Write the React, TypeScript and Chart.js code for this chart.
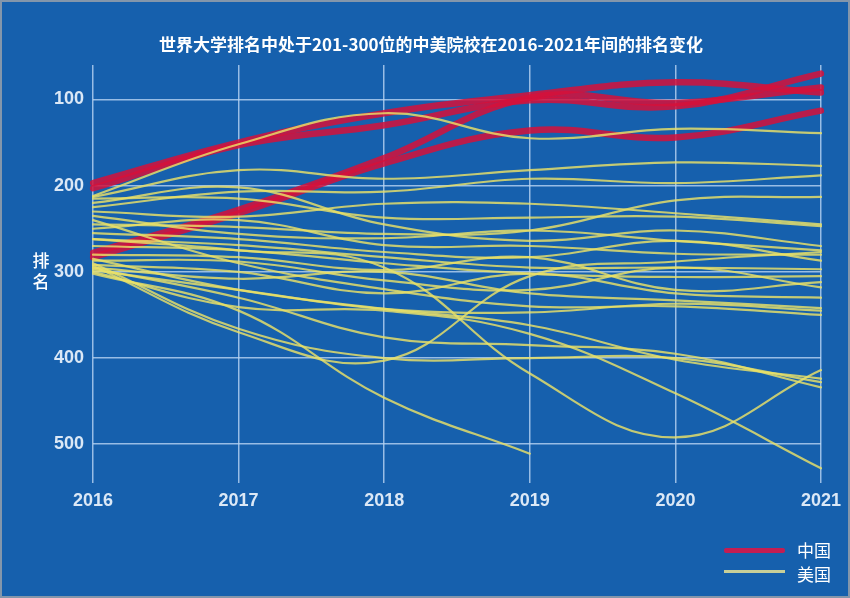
import React, { useEffect, useRef } from 'react';
import { Chart, registerables } from 'chart.js';

Chart.register(...registerables);

const TITLE = '世界大学排名中处于201-300位的中美院校在2016-2021年间的排名变化';
const Y_TITLE = ['排', '名'];
const years = ['2016', '2017', '2018', '2019', '2020', '2021'];
const yTicks = [100, 200, 300, 400, 500];
const legendLabels = ['中国', '美国'];

// China (red)
const cn1 = [197, 150, 116, 95, 80, 92];
const cn2 = [203, 153, 130, 101, 108, 70];
const cn3 = [278, 228, 168, 98, 104, 86];
const cn4 = [283, 232, 174, 136, 144, 113];

// USA (yellow)
const us01 = [212, 152, 116, 145, 134, 139];
const us02 = [213, 182, 192, 182, 173, 177];
const us03 = [225, 207, 207, 192, 197, 188];
const us04 = [245, 248, 256, 252, 217, 213];
const us05 = [230, 236, 221, 221, 232, 245];
const us06 = [215, 215, 237, 237, 236, 247];
const us07 = [220, 202, 245, 264, 252, 270];
const us08 = [235, 256, 261, 252, 264, 275];
const us09 = [250, 240, 269, 270, 279, 280];
const us10 = [255, 262, 277, 283, 264, 287];
const us11 = [262, 269, 283, 295, 295, 297];
const us12 = [270, 275, 290, 302, 306, 305];
const us13 = [280, 283, 298, 283, 321, 312];
const us14 = [287, 288, 310, 321, 295, 318];
const us15 = [292, 300, 325, 302, 325, 330];
const us16 = [295, 308, 300, 325, 333, 342];
const us17 = [298, 321, 343, 347, 337, 345];
const us18 = [240, 290, 320, 340, 340, 350];
const us19 = [300, 341, 345, 372, 441, 528];
const us20 = [262, 275, 295, 418, 492, 414];
const us21 = [302, 345, 446, 511, null, null];
const us22 = [293, 370, 403, 305, 288, 277];
const us23 = [290, 366, 400, 400, 400, 428];
const us24 = [296, 330, 376, 385, 395, 434];
const us25 = [285, 321, 343, 362, 402, 424];

const chinaSeries = [cn1, cn2, cn3, cn4];
const usSeries = [
  us01, us02, us03, us04, us05, us06, us07, us08, us09, us10, us11, us12, us13,
  us14, us15, us16, us17, us18, us19, us20, us21, us22, us23, us24, us25,
];

const BG = '#1660ad';
const GRID = 'rgba(185, 212, 242, 0.8)';
const TICK = '#dbe8f6';
const RED = 'rgba(214, 16, 58, 0.85)';
const YELLOW = 'rgba(234, 226, 104, 0.82)';
const CJK = "'Noto Sans CJK SC', 'Noto Sans', sans-serif";
const TICK_FONT = "'Liberation Sans', Arial, sans-serif";

export default function App() {
  const ref = useRef<HTMLCanvasElement | null>(null);

  useEffect(() => {
    if (!ref.current) return;
    const datasets: any[] = [];
    usSeries.forEach((d, i) => {
      datasets.push({
        label: `美国${i + 1}`,
        data: d,
        borderColor: YELLOW,
        borderWidth: 2.2,
        pointRadius: 0,
        fill: false,
        order: 0,
      });
    });
    chinaSeries.forEach((d, i) => {
      datasets.push({
        label: `中国${i + 1}`,
        data: d,
        borderColor: RED,
        borderWidth: 6.5,
        pointRadius: 0,
        fill: false,
        order: 1,
      });
    });

    const chart = new Chart(ref.current, {
      type: 'line',
      data: { labels: years, datasets },
      options: {
        animation: false,
        responsive: false,
        layout: { padding: { left: 12, right: 0, top: 0, bottom: 0 } },
        elements: {
          point: { radius: 0 },
          line: { tension: 0.4, borderCapStyle: 'round', borderJoinStyle: 'round' },
        },
        plugins: {
          legend: { display: false },
          tooltip: { enabled: false },
          title: {
            display: true,
            text: TITLE,
            color: '#ffffff',
            font: { family: CJK, size: 17, weight: 'bold' },
            padding: { top: 34, bottom: 10.6 },
          },
        },
        scales: {
          x: {
            type: 'category',
            offset: false,
            grid: { color: GRID, lineWidth: 1.5, drawTicks: false },
            border: { display: false },
            ticks: {
              color: TICK,
              padding: 7,
              maxRotation: 0,
              font: { family: TICK_FONT, size: 18, weight: 'bold' },
            },
            afterFit: (s: any) => {
              s.height = 115;
            },
          },
          y: {
            type: 'linear',
            reverse: true,
            min: 60,
            max: 545,
            grid: { color: GRID, lineWidth: 1.5, drawTicks: false },
            border: { display: false },
            ticks: {
              color: TICK,
              padding: 9,
              font: { family: TICK_FONT, size: 18, weight: 'bold' },
            },
            afterBuildTicks: (s: any) => {
              s.ticks = yTicks.map((v) => ({ value: v }));
            },
            afterFit: (s: any) => {
              s.width = 81;
            },
          },
          yRight: {
            type: 'linear',
            position: 'right',
            display: true,
            grid: { display: false },
            border: { display: false },
            ticks: { display: false },
            afterFit: (s: any) => {
              s.width = 29;
            },
          },
        },
      } as any,
    });
    return () => chart.destroy();
  }, []);

  return (
    <div
      style={{
        position: 'fixed',
        left: 0,
        top: 0,
        width: 850,
        height: 598,
        background: BG,
        overflow: 'hidden',
      }}
    >
      <canvas ref={ref} width={850} height={598} style={{ position: 'absolute', left: 0, top: 0, width: 850, height: 598 }} />
      <div
        style={{
          position: 'absolute',
          left: 31,
          top: 249,
          width: 20,
          color: '#ffffff',
          fontFamily: CJK,
          fontSize: 17,
          fontWeight: 500,
          lineHeight: '21px',
          textAlign: 'center',
        }}
      >
        {Y_TITLE.map((c) => (
          <div key={c}>{c}</div>
        ))}
      </div>
      <div style={{ position: 'absolute', left: 724, top: 548, width: 61, height: 5, background: '#c41d52', borderRadius: 2 }} />
      <div
        style={{
          position: 'absolute',
          left: 797,
          top: 539,
          color: '#ffffff',
          fontFamily: CJK,
          fontSize: 17,
          lineHeight: '22px',
        }}
      >
        {legendLabels[0]}
      </div>
      <div style={{ position: 'absolute', left: 724, top: 570, width: 61, height: 3, background: '#c8cf98' }} />
      <div
        style={{
          position: 'absolute',
          left: 797,
          top: 563,
          color: '#ffffff',
          fontFamily: CJK,
          fontSize: 17,
          lineHeight: '22px',
        }}
      >
        {legendLabels[1]}
      </div>
      <div
        style={{
          position: 'absolute',
          left: 0,
          top: 0,
          width: 850,
          height: 598,
          boxSizing: 'border-box',
          border: '2px solid #8396ab',
          pointerEvents: 'none',
        }}
      />
    </div>
  );
}
